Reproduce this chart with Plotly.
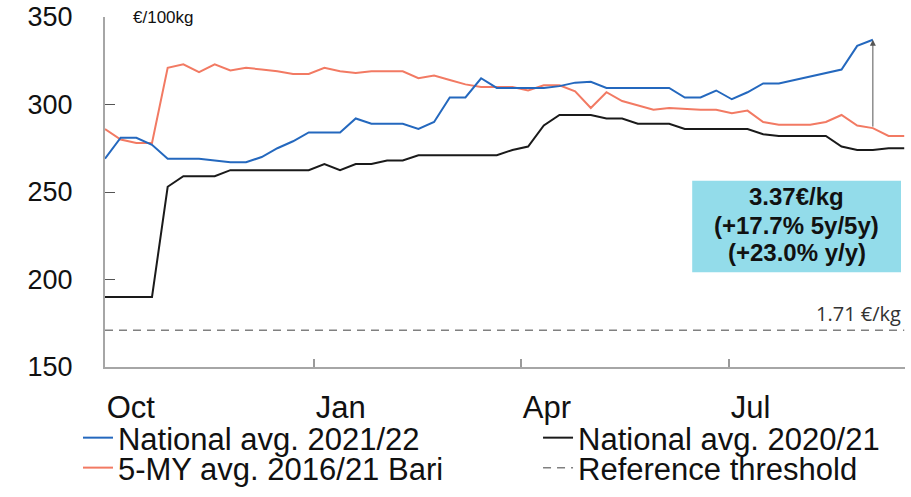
import plotly.graph_objects as go

weeks = list(range(52))
month_ticks = [0, 13.34, 26.55, 39.82]
month_labels = ["Oct", "Jan", "Apr", "Jul"]

national_2122 = [269, 281, 281, 277, 269, 269, 269, 268, 267, 267,
                 270, 275, 279, 284, 284, 284, 292, 289, 289, 289,
                 286, 290, 304, 304, 315, 309.5, 309.5, 309.5, 309.5, 310.5,
                 312.5, 313, 309.5, 309.5, 309.5, 309.5, 309.5, 304, 304, 308,
                 303, 307, 312, 312, 314, 316, 318, 320, 333.5, 337]
national_2021 = [190, 190, 190, 190, 253, 259, 259, 259, 262.5, 262.5,
                 262.5, 262.5, 262.5, 262.5, 266, 262.5, 266, 266, 268, 268,
                 271, 271, 271, 271, 271, 271, 274, 276, 288, 294,
                 294, 294, 292, 292, 289, 289, 289, 286, 286, 286,
                 286, 286, 283, 282, 282, 282, 282, 276, 274, 274,
                 275, 275]
bari_5my = [286, 280, 278, 278, 321, 323, 318.5, 323, 319.5, 321,
            320, 319, 317.5, 317.5, 321, 319, 318, 319, 319, 319,
            315, 316.5, 314, 311.5, 310, 310, 310, 308, 311, 311,
            307.5, 298, 307, 302, 299.5, 297, 298, 297.5, 297, 297,
            295, 296.5, 290, 288.5, 288.5, 288.5, 290, 294, 288, 286.5,
            282, 282]
threshold = [171] * 52
box_lines = ["3.37€/kg", "(+17.7% 5y/5y)", "(+23.0% y/y)"]

FONT = "Liberation Sans"
BLUE = "#2468be"
BLACK = "#1a1a1a"
ORANGE = "#f27a63"
GREY = "#808080"

fig = go.Figure()
fig.add_trace(go.Scatter(x=weeks, y=threshold, mode="lines", name="Reference threshold",
                         line=dict(color=GREY, width=1.5, dash="8px,6px"),
                         legend="legend4", hoverinfo="skip"))
fig.add_trace(go.Scatter(x=weeks, y=national_2021, mode="lines", name="National avg. 2020/21",
                         line=dict(color=BLACK, width=2), legend="legend2"))
fig.add_trace(go.Scatter(x=weeks, y=bari_5my, mode="lines", name="5-MY avg. 2016/21 Bari",
                         line=dict(color=ORANGE, width=2), legend="legend3"))
fig.add_trace(go.Scatter(x=weeks[:len(national_2122)], y=national_2122, mode="lines",
                         name="National avg. 2021/22",
                         line=dict(color=BLUE, width=2), legend="legend"))

last = len(national_2122) - 1
fig.add_annotation(x=weeks[last], y=national_2122[last], ax=weeks[last], ay=bari_5my[last],
                   xref="x", yref="y", axref="x", ayref="y", text="", showarrow=True,
                   arrowhead=2, arrowsize=1.2, arrowwidth=1, arrowcolor="#555555", standoff=0)

fig.add_shape(type="rect", xref="paper", yref="paper", x0=0.734, x1=0.995, y0=0.271, y1=0.532,
              fillcolor="#93dcea", line=dict(width=0), layer="below")
for txt, yy in zip(box_lines, [0.486, 0.403, 0.326]):
    fig.add_annotation(xref="paper", yref="paper", x=0.8645, y=yy, showarrow=False,
                       text="<b>" + txt + "</b>", xanchor="center", yanchor="middle",
                       font=dict(family=FONT, size=24, color="#111111"), align="center")
fig.add_annotation(xref="paper", yref="paper", x=0.0325, y=1.0, xanchor="left", yanchor="middle",
                   showarrow=False, text="€/100kg", font=dict(family=FONT, size=17, color="#111111"))
fig.add_annotation(xref="paper", yref="y", x=0.997, y=171, xanchor="right", yanchor="bottom",
                   yshift=1, showarrow=False, text="1.71 €/kg",
                   font=dict(family="Open Sans", size=20, color="#333333"))

leg_common = dict(orientation="h", xanchor="left", yanchor="middle", xref="container",
                  yref="container", font=dict(family=FONT, size=31, color="#111111"),
                  bgcolor="rgba(0,0,0,0)", borderwidth=0)
fig.update_layout(
    width=911, height=497,
    margin=dict(l=105, r=6, t=17, b=130, autoexpand=False),
    paper_bgcolor="white", plot_bgcolor="white",
    font=dict(family=FONT, color="#111111"),
    showlegend=True,
    legend=dict(x=0.0856, y=0.1187, **leg_common),
    legend2=dict(x=0.5906, y=0.1187, **leg_common),
    legend3=dict(x=0.0856, y=0.0584, **leg_common),
    legend4=dict(x=0.5906, y=0.0584, **leg_common),
)
fig.update_xaxes(range=[0, 51.05], tickmode="array", tickvals=month_ticks, ticktext=month_labels,
                 ticks="inside", ticklen=8, tickcolor="#9a9a9a", tickwidth=1.5,
                 showline=True, linecolor="#a6a6a6", linewidth=2, showgrid=False, zeroline=False,
                 ticklabelposition="outside right", ticklabelstandoff=12, automargin=False,
                 tickfont=dict(family=FONT, size=31, color="#111111"))
fig.update_yaxes(range=[150, 350], tickmode="array", tickvals=[150, 200, 250, 300, 350],
                 ticks="inside", ticklen=10, tickcolor="#555555", tickwidth=1,
                 showline=True, linecolor="#a6a6a6", linewidth=2, showgrid=False, zeroline=False,
                 ticklabelstandoff=25, automargin=False,
                 tickfont=dict(family=FONT, size=27, color="#111111"))

fig.write_html("out.html", post_script="document.body.style.margin='0';",
               config={"displayModeBar": False})
